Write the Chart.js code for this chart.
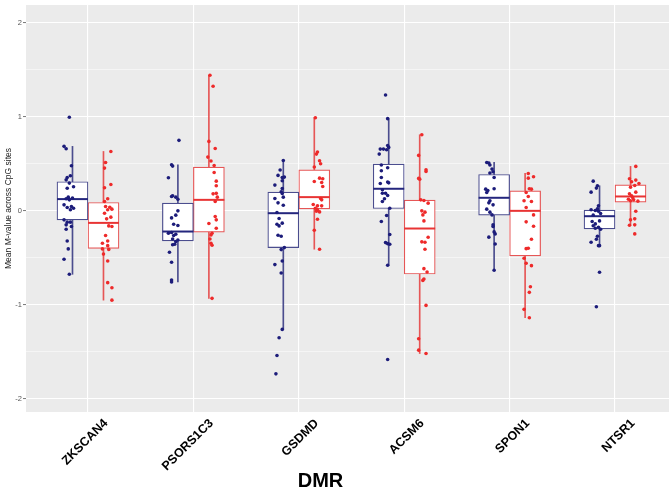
<!DOCTYPE html>
<html>
<head>
<meta charset="utf-8">
<script src="https://cdn.jsdelivr.net/npm/chart.js@4"></script>
<style>
  html, body { margin: 0; padding: 0; background: #fff; }
</style>
</head>
<body>
<canvas id="chart" width="669" height="497"></canvas>
<script>
// DMR names on the x axis
const genes = ["ZKSCAN4", "PSORS1C3", "GSDMD", "ACSM6", "SPON1", "NTSR1"];
const yTicks = [-2, -1.5, -1, -0.5, 0, 0.5, 1, 1.5, 2];

// box stats, blue group
const blueLow = [-0.675, -0.757, -1.261, -0.579, -0.632, -0.37];
const blueQ1 = [-0.096, -0.32, -0.391, 0.025, -0.046, -0.192];
const blueMed = [0.125, -0.22, -0.025, 0.235, 0.139, -0.057];
const blueQ3 = [0.31, 0.082, 0.199, 0.498, 0.387, 0.007];
const blueHigh = [0.686, 0.49, 0.536, 0.981, 0.515, 0.267];

// box stats, red group
const redLow = [-0.95, -0.931, -0.408, -1.518, -1.137, -0.153];
const redQ1 = [-0.4, -0.227, 0.021, -0.672, -0.48, 0.092];
const redMed = [-0.128, 0.117, 0.146, -0.188, 0.0, 0.153];
const redQ3 = [0.089, 0.466, 0.437, 0.114, 0.213, 0.277];
const redHigh = [0.632, 1.443, 0.991, 0.81, 0.398, 0.473];

// points: [value, jitter]
const zkscan4Blue = [[0.995,-0.03],[0.686,-0.08],[0.661,-0.06],[0.48,-0.01],[0.373,-0.02],[0.355,-0.05],[0.33,-0.06],[0.295,-0.03],[0.24,-0.05],[0.256,0.01],[0.146,-0.04],[0.135,0],[0.117,-0.03],[0.128,-0.06],[0.064,-0.08],[0.036,-0.05],[0.011,-0.02],[0.028,0.01],[0.046,-0.01],[-0.096,-0.08],[-0.12,-0.05],[-0.12,-0.02],[-0.149,-0.06],[-0.167,-0.01],[-0.195,-0.06],[-0.32,-0.05],[-0.405,-0.04],[-0.515,-0.08],[-0.675,-0.03]];
const psors1c3Blue = [[0.75,0.01],[0.49,-0.06],[0.476,-0.05],[0.352,-0.09],[0.16,-0.05],[0.146,-0.02],[0.124,0],[0.153,-0.06],[-0.046,-0.02],[-0.075,-0.06],[0.0,0],[-0.142,-0.04],[-0.156,0],[-0.238,-0.09],[-0.231,-0.06],[-0.263,-0.04],[-0.249,-0.02],[-0.3,-0.05],[-0.327,-0.02],[-0.355,-0.03],[-0.31,0],[-0.36,-0.05],[-0.44,-0.08],[-0.547,-0.06],[-0.735,-0.06],[-0.757,-0.06]];
const gsdmdBlue = [[0.536,0],[0.434,-0.03],[0.377,-0.05],[0.355,-0.01],[0.359,0.01],[0.32,-0.01],[0.274,-0.08],[0.238,-0.01],[0.203,-0.02],[0.185,-0.01],[0.146,0],[0.131,-0.08],[0.085,-0.05],[0.06,0],[-0.018,-0.06],[-0.082,-0.04],[-0.131,-0.01],[-0.142,-0.06],[-0.16,-0.04],[-0.259,-0.05],[-0.27,-0.02],[-0.391,0.01],[-0.412,-0.02],[-0.533,-0.01],[-0.572,-0.08],[-0.661,-0.02],[-1.261,-0.01],[-1.35,-0.04],[-1.539,-0.06],[-1.734,-0.07]];
const acsm6Blue = [[1.233,-0.03],[0.981,-0.01],[0.696,-0.01],[0.675,0],[0.65,-0.02],[0.657,-0.05],[0.657,-0.08],[0.604,-0.09],[0.487,-0.07],[0.458,-0.01],[0.426,-0.07],[0.355,-0.07],[0.306,-0.01],[0.298,0],[0.291,-0.08],[0.224,-0.06],[0.188,-0.06],[0.188,-0.03],[0.164,-0.01],[0.128,-0.04],[0.1,-0.06],[0.028,0.01],[-0.05,-0.02],[-0.114,-0.07],[-0.252,0.01],[-0.338,-0.03],[-0.349,-0.01],[-0.356,0.01],[-0.579,-0.01],[-1.581,-0.01]];
const spon1Blue = [[0.515,-0.07],[0.508,-0.05],[0.487,-0.04],[0.444,-0.02],[0.416,-0.01],[0.402,-0.04],[0.355,0],[0.231,-0.08],[0.217,-0.06],[0.195,-0.07],[0.235,0],[0.107,-0.04],[0.085,-0.05],[0.064,-0.01],[0.018,-0.07],[-0.014,-0.04],[-0.043,-0.02],[-0.149,-0.01],[-0.167,-0.01],[-0.224,0],[-0.245,0.01],[-0.28,-0.05],[-0.352,0.01],[-0.632,0]];
const ntsr1Blue = [[0.316,-0.06],[0.267,-0.02],[0.242,-0.03],[0.199,-0.08],[0.053,-0.01],[0.021,-0.02],[0.004,-0.04],[0.011,-0.08],[-0.004,-0.01],[-0.028,0.01],[-0.046,-0.06],[-0.114,-0.07],[-0.107,0],[-0.139,-0.04],[-0.158,-0.06],[-0.174,-0.01],[-0.185,-0.04],[-0.195,0.01],[-0.27,-0.02],[-0.302,-0.03],[-0.334,-0.08],[-0.37,-0.01],[-0.37,0],[-0.654,0],[-1.02,-0.03]];

const zkscan4Red = [[0.632,0.07],[0.515,0.02],[0.455,0.01],[0.28,0.07],[0.245,0.01],[0.128,0.04],[0.1,0.01],[0.046,0.02],[0.039,0.06],[0.011,0.04],[0.018,0.08],[-0.025,0.01],[-0.067,0.07],[-0.085,0.03],[-0.16,0.05],[-0.167,0.08],[-0.263,0.02],[-0.32,0.04],[-0.345,-0.01],[-0.37,0.04],[-0.405,-0.01],[-0.41,0.05],[-0.46,0],[-0.533,0.04],[-0.764,0.04],[-0.818,0.08],[-0.95,0.08]];
const psors1c3Red = [[1.443,0.01],[1.325,0.04],[0.739,0],[0.664,0.06],[0.572,-0.01],[0.53,0.02],[0.483,0.05],[0.408,0.05],[0.316,0.07],[0.267,0.07],[0.181,0.04],[0.186,0.07],[0.146,0.08],[0.1,0.06],[-0.06,0.06],[-0.096,0.07],[-0.135,0],[-0.185,0.07],[-0.238,0.03],[-0.256,0.02],[-0.3,0.01],[-0.345,0.02],[-0.366,0.03],[-0.931,0.03]];
const gsdmdRed = [[0.991,0.01],[0.626,0.03],[0.604,0.02],[0.533,0.05],[0.501,0.06],[0.466,0],[0.348,0.05],[0.341,0.08],[0.313,0],[0.302,0.07],[0.259,0.08],[0.131,0.06],[0.117,0.07],[0.067,-0.01],[0.053,0.03],[0.053,0.07],[0.028,0.01],[0.011,0.03],[-0.011,0.05],[-0.004,0.02],[-0.089,0.03],[-0.206,0],[-0.408,0.05]];
const acsm6Red = [[0.81,0.02],[0.59,-0.01],[0.437,0.06],[0.419,0.06],[0.345,-0.01],[0.337,0],[0.117,0.01],[0.11,0.04],[0.082,0.08],[0.0,0.02],[-0.014,0.05],[-0.043,0.03],[-0.107,0.04],[-0.281,0.08],[-0.33,0.02],[-0.334,0.05],[-0.409,0.05],[-0.615,0.04],[-0.65,0.07],[-0.725,0.04],[-0.74,0.03],[-1.006,0.06],[-1.361,-0.01],[-1.482,-0.01],[-1.518,0.06]];
const spon1Red = [[0.398,0.03],[0.362,0.08],[0.348,0.03],[0.235,0.04],[0.231,0.06],[0.195,0.01],[0.153,0.03],[0.107,-0.01],[0.1,0.06],[0.036,0.01],[-0.043,0.08],[-0.117,0.01],[-0.164,0.08],[-0.302,0.06],[-0.398,0.03],[-0.402,0.01],[-0.505,-0.01],[-0.558,0.01],[-0.583,0.06],[-0.807,0.05],[-0.867,0.04],[-1.048,-0.01],[-1.137,0.04]];
const ntsr1Red = [[0.473,0.05],[0.341,-0.01],[0.327,0.05],[0.309,0.01],[0.291,0.08],[0.27,0.04],[0.252,0],[0.199,0.05],[0.181,-0.01],[0.16,0.01],[0.142,0.02],[0.124,-0.02],[0.117,0.03],[0.103,0.07],[0.107,0],[-0.004,0.05],[-0.096,0],[-0.085,0.04],[-0.153,-0.01],[-0.149,0.04],[-0.245,0.04]];

const bluePoints = [zkscan4Blue, psors1c3Blue, gsdmdBlue, acsm6Blue, spon1Blue, ntsr1Blue];
const redPoints = [zkscan4Red, psors1c3Red, gsdmdRed, acsm6Red, spon1Red, ntsr1Red];

// half distance between the two boxes of a DMR, in x units
const dodge = 0.147;

// whisker + box + median for one group
function boxDatasets(low, q1, med, q3, high, side, boxColor, medColor) {
  const pos = (i) => i + 1 + side * dodge;
  return [
    {
      type: "bar",
      data: genes.map((g, i) => ({ x: pos(i), y: [low[i], high[i]] })),
      backgroundColor: boxColor,
      barThickness: 1,
      grouped: false,
      order: 3,
    },
    {
      type: "bar",
      data: genes.map((g, i) => ({ x: pos(i), y: [q1[i], q3[i]] })),
      backgroundColor: "#ffffff",
      borderColor: boxColor,
      borderWidth: 1.2,
      borderSkipped: false,
      barThickness: 31,
      grouped: false,
      order: 2,
    },
    {
      type: "scatter",
      data: genes.map((g, i) => ({ x: pos(i), y: med[i] })),
      pointStyle: "line",
      pointRadius: 15.5,
      pointBorderColor: medColor,
      pointBorderWidth: 2,
      order: 1,
    },
  ];
}

function pointDataset(groups, side, color) {
  const data = [];
  groups.forEach((pts, i) => {
    pts.forEach(([v, j]) => data.push({ x: i + 1 + side * dodge + j, y: v }));
  });
  return {
    type: "scatter",
    data: data,
    pointRadius: 1.8,
    pointBackgroundColor: color,
    pointBorderWidth: 0,
    order: 0,
  };
}

// grey panel behind the grid
const panelBg = {
  id: "panelBg",
  beforeDraw(chart) {
    const { ctx, chartArea: a } = chart;
    ctx.save();
    ctx.fillStyle = "#ebebeb";
    ctx.fillRect(a.left, a.top, a.right - a.left, a.bottom - a.top);
    ctx.restore();
  },
};

// x axis title
const xTitle = {
  id: "xTitle",
  afterDraw(chart) {
    const ctx = chart.ctx;
    const xs = chart.scales.x;
    const cx = (chart.chartArea.left + xs.getPixelForValue(genes.length)) / 2;
    ctx.save();
    ctx.font = 'bold 20px "Liberation Sans", Arial, sans-serif';
    ctx.fillStyle = "#000";
    ctx.textAlign = "center";
    ctx.textBaseline = "middle";
    ctx.fillText("DMR", cx, chart.height - 16);
    ctx.restore();
  },
};

const ctx = document.getElementById("chart").getContext("2d");
new Chart(ctx, {
  type: "bar",
  data: {
    datasets: [
      pointDataset(bluePoints, -1, "#1c1c7a"),
      pointDataset(redPoints, 1, "#ee2a2a"),
      ...boxDatasets(blueLow, blueQ1, blueMed, blueQ3, blueHigh, -1, "#4b4d8e", "#24267d"),
      ...boxDatasets(redLow, redQ1, redMed, redQ3, redHigh, 1, "#e65656", "#e83434"),
    ],
  },
  plugins: [panelBg, xTitle],
  options: {
    responsive: false,
    animation: false,
    events: [],
    layout: { autoPadding: false, padding: { top: 5, right: 0, bottom: 0, left: 0 } },
    plugins: {
      legend: { display: false },
      tooltip: { enabled: false },
    },
    scales: {
      x: {
        type: "linear",
        min: 0.412,
        max: 6.512,
        offset: false,
        afterBuildTicks: (scale) => {
          scale.ticks = genes.map((g, i) => ({ value: i + 1 }));
        },
        afterFit: (scale) => {
          scale.height = 85;
          scale.paddingLeft = 0;
          scale.paddingRight = 0;
        },
        border: { display: false },
        grid: {
          offset: false,
          color: "#ffffff",
          lineWidth: 1.1,
          drawTicks: false,
        },
        ticks: {
          autoSkip: false,
          maxRotation: 45,
          minRotation: 45,
          padding: 4,
          labelOffset: 18,
          color: "#000",
          font: { family: '"Liberation Sans", Arial, sans-serif', size: 12.5, weight: "bold" },
          callback: (v) => genes[v - 1],
        },
      },
      y: {
        min: -2.14,
        max: 2.19,
        afterBuildTicks: (scale) => {
          scale.ticks = yTicks.map((v) => ({ value: v }));
        },
        afterFit: (scale) => {
          scale.width = 26;
          scale.paddingTop = 0;
          scale.paddingBottom = 0;
        },
        border: { display: false },
        grid: {
          color: "#ffffff",
          lineWidth: (c) => (Number.isInteger(c.tick.value) ? 1.1 : 0.5),
          tickColor: (c) => (Number.isInteger(c.tick.value) ? "#555" : "rgba(0,0,0,0)"),
          tickLength: 3,
          tickWidth: 0.8,
        },
        ticks: {
          autoSkip: false,
          padding: 1,
          color: "#555",
          font: { family: '"Liberation Sans", Arial, sans-serif', size: 7.5 },
          callback: (v) => (Number.isInteger(v) ? String(v) : ""),
        },
        title: {
          display: true,
          text: "Mean M-value across CpG sites",
          color: "#222",
          font: { family: '"Liberation Sans", Arial, sans-serif', size: 8.5 },
          padding: { top: 4, bottom: 0 },
        },
      },
    },
  },
});
</script>
</body>
</html>
